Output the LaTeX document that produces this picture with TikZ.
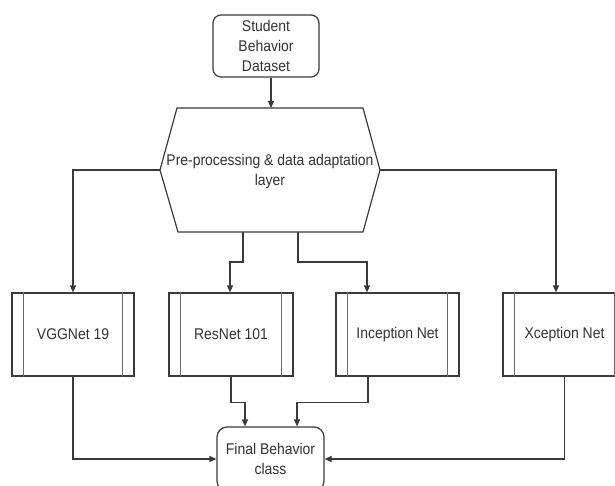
\documentclass[tikz,border=0pt]{standalone}
\usepackage{fontspec}
\setmainfont{Liberation Sans}[FakeStretch=0.9]
\usetikzlibrary{arrows.meta,calc}
\definecolor{ln}{HTML}{3A3A3A}
\definecolor{inl}{HTML}{6A6A6A}
\definecolor{tx}{HTML}{333333}
\begin{document}
\begin{tikzpicture}[x=1pt,y=-1pt,
  line width=1.2pt,
  txt/.style={text=tx,font=\fontsize{15.5}{20}\selectfont,align=center},
  rbox/.style={txt,draw=ln,rounded corners=8pt,inner sep=0pt},
  netbox/.style={txt,draw=ln,inner sep=0pt,minimum height=83pt},
  arr/.style={draw=ln,-{Triangle[length=7pt,width=6pt]}},
  conn/.style={draw=ln}]
\useasboundingbox (0,0) rectangle (615,486);
\clip (0,0) rectangle (615,486);
\fill[white] (0,0) rectangle (615,486);

% source
\node[rbox,minimum width=106pt,minimum height=62pt] (student) at (266,46) {Student\\Behavior\\Dataset};

% hexagon
\draw[ln] (177,108) -- (363,108) -- (380,170) -- (363,232) -- (178,232) -- (160,170) -- cycle;
\node[txt] (pre) at (270,171) {Pre-processing \& data adaptation\\layer};
\coordinate (ht) at (271,108);
\coordinate (hl) at (160,170);
\coordinate (hr) at (380,170);
\coordinate (hb1) at (243,232);
\coordinate (hb2) at (298,232);

% networks
\node[netbox,minimum width=122pt] (vgg) at (73,334.5) {VGGNet 19};
\node[netbox,minimum width=124pt] (res) at (231,334.5) {ResNet 101};
\node[netbox,minimum width=123pt] (inc) at (397.5,334.5) {Inception Net};
\node[netbox,minimum width=123pt] (xce) at (564.5,334.5) {Xception Net};
\foreach \n in {vgg,res,inc,xce}{
  \draw[inl,line width=1pt] ($(\n.north west)+(12.5,0)$) -- ($(\n.south west)+(12.5,0)$);
  \draw[inl,line width=1pt] ($(\n.north east)+(-12.5,0)$) -- ($(\n.south east)+(-12.5,0)$);
}

% final
\node[rbox,rounded corners=10pt,minimum width=107pt,minimum height=64pt] (final) at (270.5,459) {Final Behavior\\class};

% arrow anchors
\coordinate (rin) at ($(res.north)+(-1,0)$);
\coordinate (iin) at ($(inc.north)+(-30.5,0)$);
\coordinate (xin) at ($(xce.north)+(-8.5,0)$);
\coordinate (iout) at ($(inc.south)+(-29.5,0)$);
\coordinate (f1) at ($(final.north)+(-25.5,0)$);
\coordinate (f2) at ($(final.north)+(26.5,0)$);

% connectors
\draw[arr] (student.south -| ht) -- (ht);
\draw[arr] (hl) -| (vgg.north);
\draw[arr] (hr) -| (xin);
\draw[arr] (hb1) -- ++(0,30) -| (rin);
\draw[arr] (hb2) -- ++(0,30) -| (iin);
\draw[arr] (vgg.south) |- (final.west);
\draw[arr] (xce.south) |- (final.east);
\draw[arr] (res.south) -- ++(0,26) -| (f1);
\draw[arr] (iout) -- ++(0,26) -| (f2);
\end{tikzpicture}
\end{document}
